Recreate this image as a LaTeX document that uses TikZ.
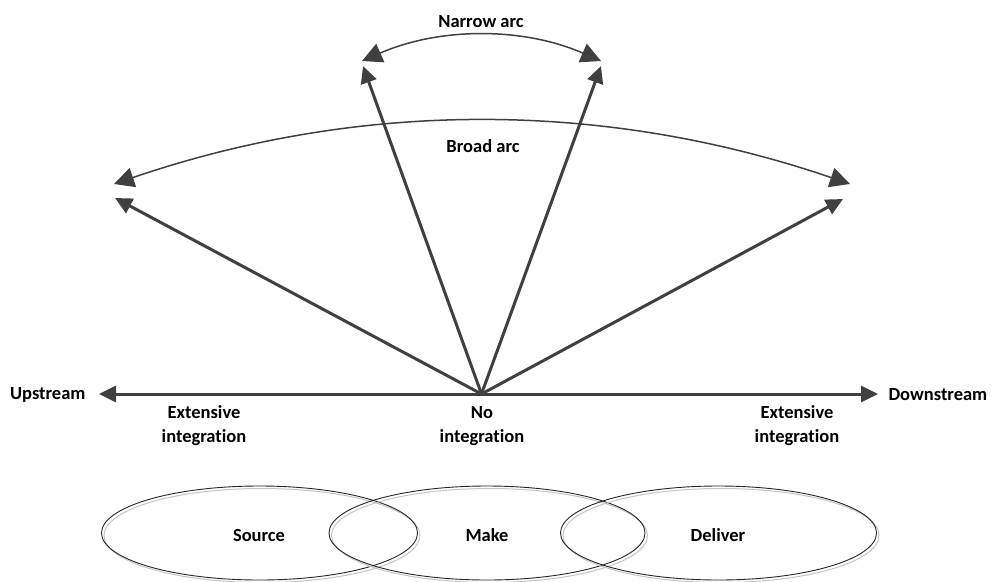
\documentclass[tikz,border=0pt]{standalone}
\usepackage{fontspec}
\setmainfont{Carlito}[Ligatures=NoCommon]
\usetikzlibrary{arrows.meta}
\definecolor{ink}{HTML}{404040}
\definecolor{ringshadow}{HTML}{C4C4C4}
\tikzset{
  lbl/.style={font=\bfseries\fontsize{18.5}{24}\selectfont, align=center, text=black},
  ray/.style={ink, line width=3pt, -{Triangle[length=17pt,width=16pt]}},
  sweep/.style={ink, line width=1.5pt, {Triangle[length=20pt,width=20pt]}-{Triangle[length=20pt,width=20pt]}},
  ring/.style={black!85, line width=0.9pt},
  ringshade/.style={draw=ringshadow, line width=1pt}
}
\begin{document}
\begin{tikzpicture}[x=1pt,y=-1pt]
\useasboundingbox (0,0) rectangle (993,581);

% supply-chain stages: outline with a light offset shadow
\foreach \cx in {259.5, 487, 718.5}{
  \draw[ringshade] (\cx+2.5,535.5) ellipse [x radius=158, y radius=47];
  \draw[ring] (\cx,533) ellipse [x radius=158, y radius=47];
}
\node[lbl] (source) at (259,535) {Source};
\node[lbl] (make) at (487,535) {Make};
\node[lbl] (deliver) at (718,535) {Deliver};

% hub and ray end points
\coordinate (hub) at (481.5,394);
\coordinate (up) at (99,394);
\coordinate (down) at (878,394);
\coordinate (bl) at (115,198);
\coordinate (br) at (843,199);
\coordinate (nl) at (363,66);
\coordinate (nr) at (601,66);

\draw[ray] (hub) -- (up);
\draw[ray] (hub) -- (down);
\draw[ray] (hub) -- (bl);
\draw[ray] (hub) -- (br);
\draw[ray] (hub) -- (nl);
\draw[ray] (hub) -- (nr);

% arcs
\coordinate (al) at (114,184);
\coordinate (ar) at (850,184);
\coordinate (ml) at (362,61);
\coordinate (mr) at (601,61);
\draw[sweep] (al) .. controls (360,100) and (604,100) .. (ar);
\draw[sweep] (ml) .. controls (440,27) and (523,27) .. (mr);

% labels
\node[lbl] (narrow) at (481,22) {Narrow arc};
\node[lbl] (broad) at (483,146) {Broad arc};
\node[lbl, anchor=east] (upstream) at (89,395) {Upstream};
\node[lbl, anchor=west] (downstream) at (885,395) {Downstream};
\node[lbl] (extl) at (204,426) {Extensive\\integration};
\node[lbl] (noint) at (482,426) {No\\integration};
\node[lbl] (extr) at (797,426) {Extensive\\integration};
\end{tikzpicture}
\end{document}
